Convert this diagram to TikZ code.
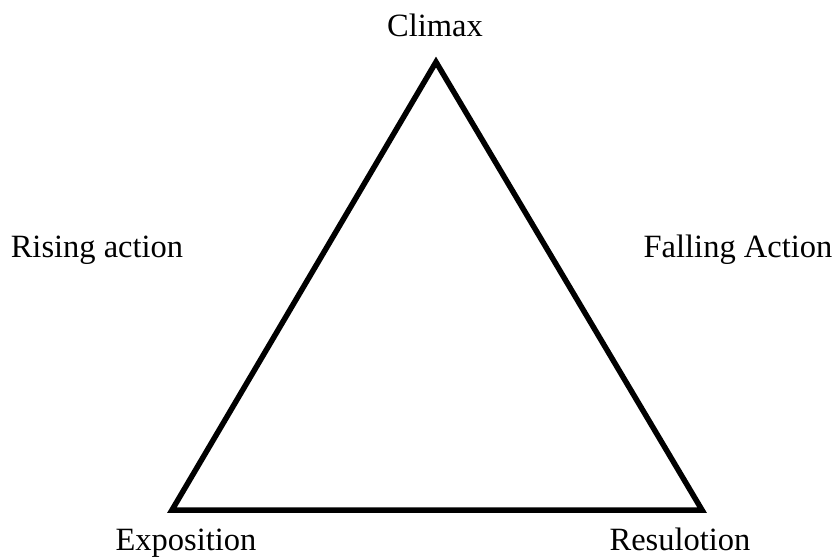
\documentclass[tikz,border=0pt]{standalone}
\usepackage{fontspec}
\setmainfont{Liberation Serif}
\begin{document}
\begin{tikzpicture}[x=1pt, y=-1pt, line width=5.5pt,
      lbl/.style={anchor=base, inner sep=0pt, font=\fontsize{32.5}{38}\selectfont}]
      \useasboundingbox (0,0) rectangle (835,559);
      \coordinate (T) at (436,62);
      \coordinate (L) at (172,510);
      \coordinate (R) at (702,510);
      \node[lbl] (climax) at (435,37) {Climax};
      \node[lbl] (rising) at (97,257) {Rising action};
      \node[lbl] (falling) at (738,257) {Falling Action};
      \node[lbl] (expo) at (186,550) {Exposition};
      \node[lbl] (resol) at (680,550) {Resulotion};
      \draw (L) -- (T) -- (R) -- cycle;
   \end{tikzpicture}
\end{document}
